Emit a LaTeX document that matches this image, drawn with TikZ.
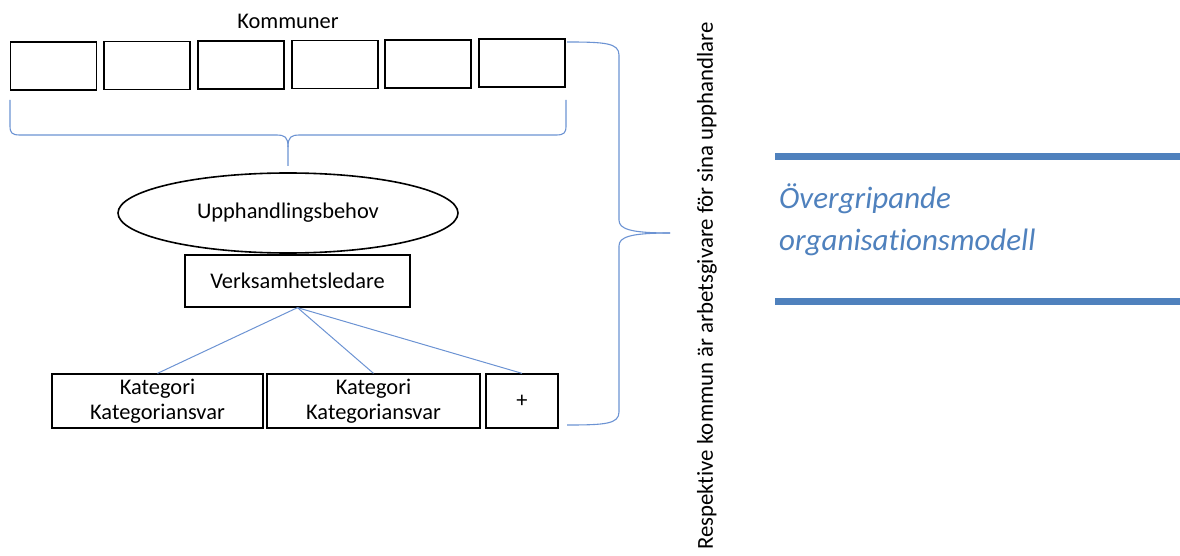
\documentclass[tikz,border=0pt]{standalone}
\usepackage{fontspec}
\setmainfont[Ligatures=NoCommon]{Carlito}
\usetikzlibrary{shapes.geometric}
\definecolor{brc}{HTML}{6C93D3}
\definecolor{ttl}{HTML}{4F81BD}
\tikzset{
  kbox/.style={draw=black, line width=1.6pt, minimum width=86pt, minimum height=48pt, inner sep=0pt},
  tbox/.style={draw=black, line width=1.3pt, inner sep=0pt, align=center, font=\fontsize{22.4}{25}\selectfont},
  lbl/.style={font=\fontsize{22.4}{25}\selectfont, inner sep=0pt},
  conn/.style={draw=brc, line width=1pt},
  brace/.style={draw=brc, line width=1.1pt},
  bar/.style={fill=ttl, draw=none},
}
\begin{document}
\begin{tikzpicture}[x=1pt,y=-1pt]
\useasboundingbox (0,0) rectangle (1180,556);
% Kommuner boxes
\node[kbox] (k1) at (53.5,66) {};
\node[kbox] (k2) at (147,65.5) {};
\node[kbox] (k3) at (241,65) {};
\node[kbox] (k4) at (335,64.5) {};
\node[kbox] (k5) at (428,64) {};
\node[kbox] (k6) at (522,63) {};
\node[lbl] (kom) at (288,21) {Kommuner};
% brace under boxes
\coordinate (bl) at (10,100);
\coordinate (br) at (566,100);
\coordinate (bt) at (288,166);
\draw[brace] (bl) -- (10,126) .. controls (10,133) and (12,135) .. (20,135) -- (276,135)
  .. controls (285,135) and (288,137) .. (288,147) -- (bt);
\draw[brace] (br) -- (566,126) .. controls (566,133) and (564,135) .. (556,135) -- (300,135)
  .. controls (291,135) and (288,137) .. (288,147);
% ellipse
\node[draw=black, line width=1.6pt, ellipse, minimum width=340pt, minimum height=80pt, inner sep=0pt, lbl] (upp) at (288,213) {Upphandlingsbehov};
% Verksamhetsledare
\node[tbox, minimum width=225pt, minimum height=52pt] (vl) at (297.5,281) {Verksamhetsledare};
% Kategori boxes
\node[tbox, minimum width=211pt, minimum height=54pt] (kat1) at (157.5,401) {Kategori\\Kategoriansvar};
\node[tbox, minimum width=213pt, minimum height=54pt] (kat2) at (373.5,401) {Kategori\\Kategoriansvar};
\node[tbox, minimum width=72pt, minimum height=54pt] (plus) at (522,401) {+};
\draw[conn] (vl.south) -- (kat1.north);
\draw[conn] (vl.south) -- (kat2.north);
\draw[conn] (vl.south) -- (plus.north);
% right brace
\coordinate (rt) at (567,42);
\coordinate (rb) at (567,425);
\coordinate (rtip) at (670,233);
\draw[brace] (rt) .. controls (605,42) and (619,43) .. (619,55) -- (619,220)
  .. controls (619,229) and (630,233) .. (rtip);
\draw[brace] (rb) .. controls (605,425) and (619,424) .. (619,412) -- (619,246)
  .. controls (619,237) and (630,233) .. (rtip);
% rotated text
\node[font=\fontsize{22.8}{25}\selectfont, inner sep=0pt, rotate=90] (resp) at (707,286) {Respektive kommun är arbetsgivare för sina upphandlare};
% title
\fill[bar] (775,153) rectangle (1180,160);
\fill[bar] (775,298) rectangle (1180,305);
\node[anchor=base west, inner sep=0pt, text=ttl, font=\fontsize{31}{42}\selectfont\itshape] (t1) at (779,208) {Övergripande};
\node[anchor=base west, inner sep=0pt, text=ttl, font=\fontsize{31}{42}\selectfont\itshape] (t2) at (779,250) {organisationsmodell};
\end{tikzpicture}
\end{document}
